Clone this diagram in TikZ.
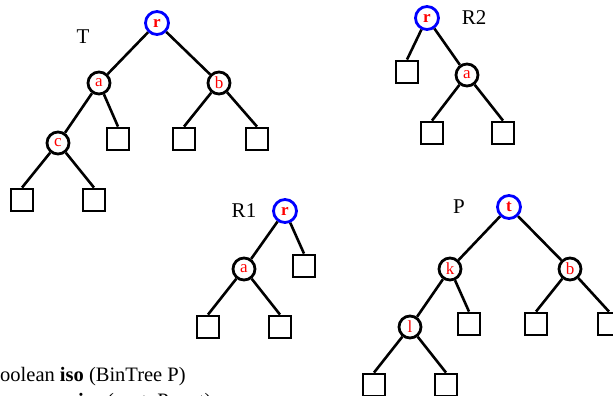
\documentclass[tikz,border=0pt]{standalone}
\usepackage{fontspec}
\setmainfont{Liberation Serif}
\begin{document}
\begin{tikzpicture}[x=1pt,y=-1pt,
  every node/.style={inner sep=0pt},
  edge/.style={line width=2.6pt},
  inner/.style={circle,draw,line width=2.8pt,minimum size=22pt,text=red,
                font=\fontsize{17}{17}\selectfont},
  rootnode/.style={inner,draw=blue,minimum size=23pt,
                font=\fontsize{17}{17}\selectfont\bfseries},
  leaf/.style={rectangle,draw,line width=2.8pt,minimum size=22pt},
  title/.style={font=\fontsize{21}{21}\selectfont},
  code/.style={anchor=base west,font=\fontsize{20.5}{24}\selectfont},
]
\useasboundingbox (0,0) rectangle (613,396);
\clip (0,0) rectangle (613,396);

% ---- tree T ----
\node[title] (lT) at (83,37) {T};
\node[rootnode] (Tr) at (157,23) {r};
\node[inner] (Ta) at (99,83) {a};
\node[inner] (Tb) at (219,83) {b};
\node[inner] (Tc) at (58,143) {c};
\node[leaf] (Ta2) at (118,139) {};
\node[leaf] (Tb1) at (184,139) {};
\node[leaf] (Tb2) at (257,139) {};
\node[leaf] (Tc1) at (22,200) {};
\node[leaf] (Tc2) at (94,200) {};
\draw[edge] (Tr) -- (Ta);
\draw[edge] (Tr) -- (Tb);
\draw[edge] (Ta) -- (Tc);
\draw[edge] (Ta) -- (Ta2.north);
\draw[edge] (Tb) -- (Tb1.north);
\draw[edge] (Tb) -- (Tb2.north);
\draw[edge] (Tc) -- (Tc1.north);
\draw[edge] (Tc) -- (Tc2.north);

% ---- tree R2 ----
\node[title] (lR2) at (474,18) {R2};
\node[rootnode] (Sr) at (427,18) {r};
\node[leaf] (Sl) at (407,72) {};
\node[inner] (Sa) at (467,75) {a};
\node[leaf] (Sa1) at (432,133) {};
\node[leaf] (Sa2) at (503,133) {};
\draw[edge] (Sr) -- (Sl.north);
\draw[edge] (Sr) -- (Sa);
\draw[edge] (Sa) -- (Sa1.north);
\draw[edge] (Sa) -- (Sa2.north);

% ---- tree R1 ----
\node[title] (lR1) at (244,211) {R1};
\node[rootnode] (Qr) at (285,211) {r};
\node[inner] (Qa) at (244,269) {a};
\node[leaf] (Qrr) at (304,266) {};
\node[leaf] (Qa1) at (208,327) {};
\node[leaf] (Qa2) at (280,327) {};
\draw[edge] (Qr) -- (Qa);
\draw[edge] (Qr) -- (Qrr.north);
\draw[edge] (Qa) -- (Qa1.north);
\draw[edge] (Qa) -- (Qa2.north);

% ---- tree P ----
\node[title] (lP) at (459,207) {P};
\node[rootnode] (Pt) at (509,207) {t};
\node[inner] (Pk) at (450,269) {k};
\node[inner] (Pb) at (570,269) {b};
\node[inner] (Pl) at (410,327) {l};
\node[leaf] (Pk2) at (469,324) {};
\node[leaf] (Pb1) at (536,324) {};
\node[leaf] (Pb2) at (609,324) {};
\node[leaf] (Pl1) at (374,385) {};
\node[leaf] (Pl2) at (446,385) {};
\draw[edge] (Pt) -- (Pk);
\draw[edge] (Pt) -- (Pb);
\draw[edge] (Pk) -- (Pl);
\draw[edge] (Pk) -- (Pk2.north);
\draw[edge] (Pb) -- (Pb1.north);
\draw[edge] (Pb) -- (Pb2.north);
\draw[edge] (Pl) -- (Pl1.north);
\draw[edge] (Pl) -- (Pl2.north);

% ---- code text ----
\node[code] (code1) at (0,381) {oolean \textbf{iso} (BinTree P)};
\node[code] (code2) at (78,407) {\textbf{i}so (root, P.root)};
\end{tikzpicture}
\end{document}
